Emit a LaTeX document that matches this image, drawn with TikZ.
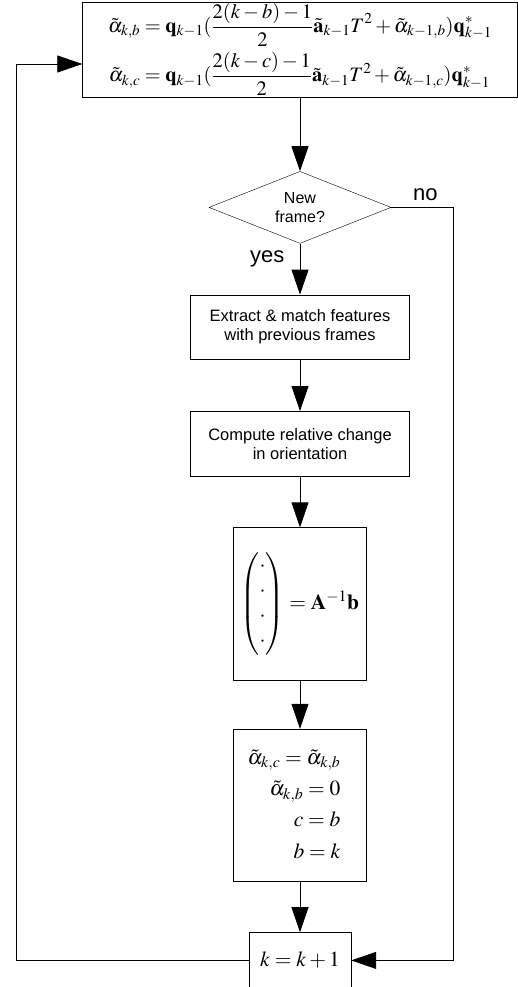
\documentclass[tikz,border=0pt]{standalone}
\usepackage{amsmath}
\usepackage{mathptmx}
\usepackage[no-math]{fontspec}
\setsansfont{Liberation Sans}
\usetikzlibrary{positioning,shapes.geometric}
\usetikzlibrary{arrows.meta}
\tikzstyle{block}=[draw, rectangle, inner sep=0pt, align=center, font=\sffamily\fontsize{16.5}{19}\selectfont]
\tikzstyle{mathbox}=[block, font=\fontsize{21.5}{25}\selectfont]
\tikzstyle{decision}=[draw, diamond, aspect=2.53, minimum width=182pt, minimum height=72pt, inner sep=0pt, align=center, font=\sffamily\fontsize{16}{18.5}\selectfont]
\tikzstyle{flow}=[-{Triangle[length=25pt,width=17pt]}, line width=0.8pt]
\tikzstyle{tag}=[font=\sffamily\fontsize{22}{26}\selectfont]

\begin{document}
\begin{tikzpicture}[x=1pt, y=1pt]
\useasboundingbox (0,0) rectangle (518,-987);
\node (update) [mathbox, font=\fontsize{20.5}{24}\selectfont, minimum width=435pt, minimum height=95pt] at (300,-49.5) {\setlength{\jot}{5pt}$\begin{aligned}
\tilde{\alpha}_{k,b} &= \mathbf{q}_{k-1}(\dfrac{2(k-b)-1}{2}\tilde{\mathbf{a}}_{k-1}T^2+\tilde{\alpha}_{k-1,b})\mathbf{q}^*_{k-1}\\
\tilde{\alpha}_{k,c} &= \mathbf{q}_{k-1}(\dfrac{2(k-c)-1}{2}\tilde{\mathbf{a}}_{k-1}T^2+\tilde{\alpha}_{k-1,c})\mathbf{q}^*_{k-1}
\end{aligned}$};
\node (newframe) [decision, below=74pt of update] {New\\frame?};
\node (extract) [block, minimum width=219pt, minimum height=64pt, below=51pt of newframe] {Extract \& match features\\with previous frames};
\node (relative) [block, minimum width=219pt, minimum height=65pt, below=52pt of extract] {Compute relative change\\in orientation};
\node (solve) [mathbox, minimum width=133pt, minimum height=153pt, below=51pt of relative] {$\begin{pmatrix}\cdot\\ \cdot\\ \cdot\\ \cdot\end{pmatrix}=\mathbf{A}^{-1}\mathbf{b}$};
\node (shift) [mathbox, minimum width=133pt, minimum height=152pt, below=48pt of solve] {\renewcommand{\arraystretch}{1.25}$\begin{array}{r}
\tilde{\alpha}_{k,c}=\tilde{\alpha}_{k,b}\\
\tilde{\alpha}_{k,b}=0\\
c=b\\
b=k
\end{array}$\hspace{12pt}};
\node (inc) [mathbox, minimum width=102pt, minimum height=56pt, below=51pt of shift] {$k=k+1$};

\coordinate (noturn) at ([xshift=62pt]newframe.east);
\coordinate (backin) at ([yshift=-14.5pt]update.west);
\coordinate (backturn) at ([xshift=-66pt]backin);

\draw [flow] (update) -- (newframe);
\draw [flow] (newframe) -- node [tag, left, pos=0.3, xshift=-12pt] {yes} (extract);
\draw [flow] (extract) -- (relative);
\draw [flow] (relative) -- (solve);
\draw [flow] (solve) -- (shift);
\draw [flow] (shift) -- (inc);
\draw [flow] (newframe.east) -- node [tag, above, pos=0.55, yshift=3pt] {no} (noturn) |- (inc);
\draw [flow] (inc.west) -| (backturn) -- (backin);
\end{tikzpicture}
\end{document}
